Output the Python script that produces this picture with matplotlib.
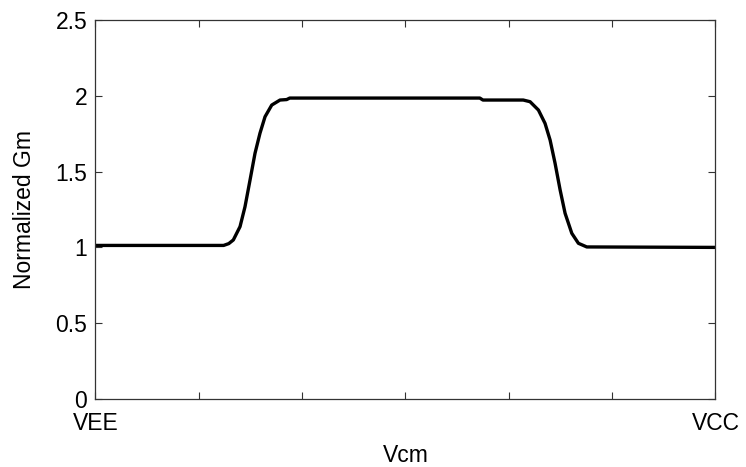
import matplotlib
matplotlib.use('Agg')
import matplotlib.pyplot as plt

plt.rcParams['font.family'] = ['Liberation Sans', 'DejaVu Sans']

# common-mode sweep (in tick units, VEE = 0 .. VCC = 6) and normalized Gm
vcm = [0.0, 1.24, 1.29, 1.334, 1.399, 1.447, 1.496, 1.544, 1.592, 1.641,
       1.706, 1.786, 1.85, 1.88, 3.72, 3.75, 4.14, 4.206, 4.287, 4.351,
       4.40, 4.448, 4.497, 4.545, 4.61, 4.674, 4.755, 6.0]
gm = [1.013, 1.013, 1.025, 1.049, 1.137, 1.268, 1.445, 1.621, 1.753, 1.862,
      1.939, 1.972, 1.975, 1.985, 1.985, 1.972, 1.972, 1.961, 1.906, 1.818,
      1.708, 1.555, 1.379, 1.225, 1.093, 1.027, 1.003, 1.0]

x_ticks = [0, 1, 2, 3, 4, 5, 6]
x_labels = ['VEE', '', '', '', '', '', 'VCC']
y_ticks = [0, 0.5, 1, 1.5, 2, 2.5]
y_labels = ['0', '0.5', '1', '1.5', '2', '2.5']

fig = plt.figure(figsize=(7.46, 4.67), dpi=100)
ax = fig.add_axes([0.128, 0.1456, 0.831, 0.8116])
ax.plot(vcm, gm, color='black', linewidth=2.4, solid_capstyle='butt')

ax.set_xlim(0, 6)
ax.set_ylim(0, 2.5)
ax.set_xticks(x_ticks)
ax.set_xticklabels(x_labels)
ax.set_yticks(y_ticks)
ax.set_yticklabels(y_labels)
ax.tick_params(direction='in', length=5, width=0.8, top=True, right=True,
               labelsize=16.5, color='#333333')
ax.tick_params(axis='x', pad=9.5)
ax.tick_params(axis='y', pad=6)
for s in ax.spines.values():
    s.set_linewidth(0.9)
    s.set_color('#333333')

ax.set_xlabel('Vcm', fontsize=16.5, labelpad=6)
ax.set_ylabel('Normalized Gm', fontsize=16.5, labelpad=14)

fig.savefig('out.png', dpi=100)
